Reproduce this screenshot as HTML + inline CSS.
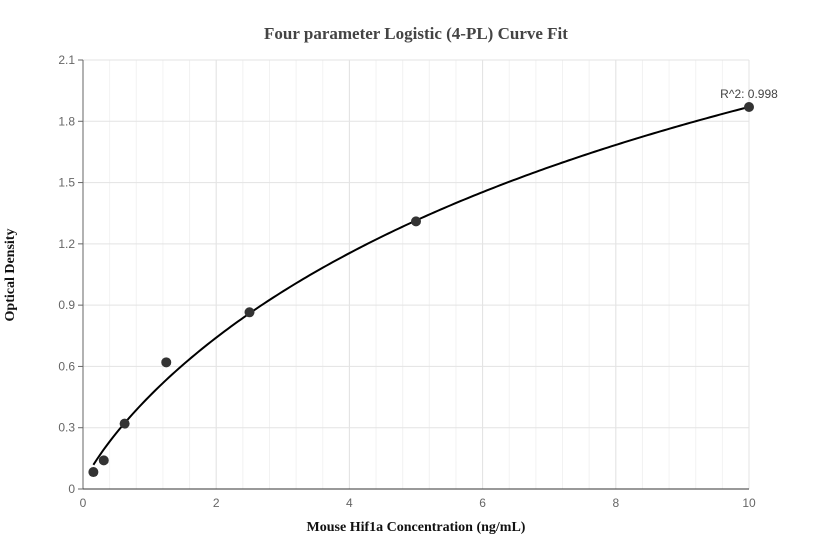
<!DOCTYPE html>
<html><head><meta charset="utf-8"><style>
body{margin:0;background:#fff;}
svg{display:block;font-family:"Liberation Sans",sans-serif;}
</style></head><body>
<svg id="chart" width="832" height="560">
<text x="416" y="39" text-anchor="middle" font-family="Liberation Serif" font-weight="bold" font-size="17" fill="#444">Four parameter Logistic (4-PL) Curve Fit</text>
<text x="416" y="531" text-anchor="middle" font-family="Liberation Serif" font-weight="bold" font-size="14" fill="#111">Mouse Hif1a Concentration (ng/mL)</text>
<text transform="translate(14,275) rotate(-90)" text-anchor="middle" font-family="Liberation Serif" font-weight="bold" font-size="14" fill="#111">Optical Density</text>
<g id="grid"></g><g id="axes"></g><g id="marks"></g>
</svg>
<script>
const xConc=[0.156,0.312,0.625,1.25,2.5,5,10];
const yOD=[0.083,0.14,0.32,0.62,0.865,1.31,1.87];
const xTicks=[0,2,4,6,8,10];
const yTicks=[0,0.3,0.6,0.9,1.2,1.5,1.8,2.1];
const fitParams=[0.02,0.85,11.8,4.0]; // a,b,c,d
const r2Label="R^2: 0.998";
const NS="http://www.w3.org/2000/svg";
const X0=83,X1=749,Y0=489,Y1=60;
const sx=v=>X0+(v-0)/(10-0)*(X1-X0);
const sy=v=>Y0-(v-0)/(2.1-0)*(Y0-Y1);
function mk(tag,attrs,parent){const e=document.createElementNS(NS,tag);for(const k in attrs)e.setAttribute(k,attrs[k]);document.getElementById(parent).appendChild(e);return e;}
for(let v=0.4;v<10;v+=0.4){const l=mk('line',{x1:sx(v),x2:sx(v),y1:Y1,y2:Y0,stroke:'#f2f2f2'},'grid');

}
xTicks.forEach(t=>{if(t>0){const l=mk('line',{x1:sx(t),x2:sx(t),y1:Y1,y2:Y0,stroke:'#e3e3e3'},'grid');

}
const tx=mk('text',{x:sx(t),y:Y0+18,'text-anchor':'middle','font-size':12,fill:'#666'},'axes');tx.textContent=t;

});
yTicks.forEach(t=>{if(t>0){const l=mk('line',{x1:X0,x2:X1,y1:sy(t),y2:sy(t),stroke:'#e3e3e3'},'grid');

}
const tk=mk('line',{x1:X0-5,x2:X0,y1:sy(t),y2:sy(t),stroke:'#666'},'axes');


const tx=mk('text',{x:X0-8,y:sy(t)+4,'text-anchor':'end','font-size':12,fill:'#666'},'axes');tx.textContent=t===0?'0':t.toFixed(1);

});
const ya=mk('line',{x1:X0,x2:X0,y1:Y1,y2:Y0,stroke:'#666'},'axes');


const xa=mk('line',{x1:X0,x2:X1,y1:Y0,y2:Y0,stroke:'#333'},'axes');


const [a,b,c,d]=fitParams;
const f=x=>d+(a-d)/(1+Math.pow(x/c,b));
let dp='';for(let i=0;i<=200;i++){const x=xConc[0]+(xConc[xConc.length-1]-xConc[0])*i/200;dp+=(i?'L':'M')+sx(x).toFixed(2)+','+sy(f(x)).toFixed(2);}
const cv=mk('path',{d:dp,fill:'none',stroke:'#000','stroke-width':2},'marks');


xConc.forEach((x,i)=>{const p=mk('circle',{cx:sx(x),cy:sy(yOD[i]),r:5,fill:'#333'},'marks');

});
const lab=mk('text',{x:sx(xConc[6]),y:sy(yOD[6])-9,'text-anchor':'middle','font-size':12,fill:'#444'},'marks');lab.textContent=r2Label;


</script>
</body></html>
